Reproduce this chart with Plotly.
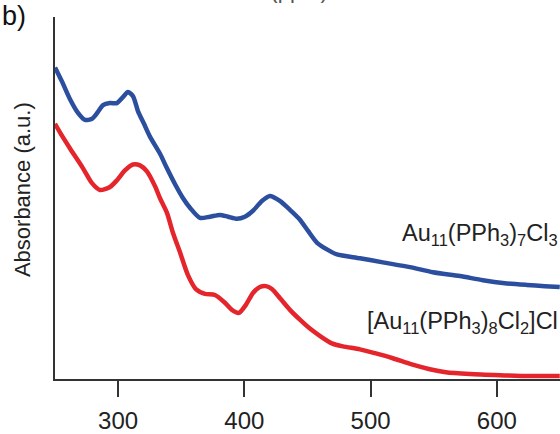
import plotly.graph_objects as go

# Wavelength (nm) and absorbance (a.u.)
blue_nm = [250.0, 255.5, 261.9, 268.2, 273.8, 279.3, 284.0, 288.0, 293.5, 299.1,
           303.8, 307.8, 311.8, 315.7, 320.5, 325.2, 333.1, 338.7, 345.0, 351.3,
           356.9, 364.8, 372.7, 380.6, 387.0, 394.1, 400.4, 406.8, 413.9, 420.2,
           428.1, 436.1, 444.0, 450.3, 457.4, 465.4, 473.3, 491.5, 509.7, 531.1,
           549.3, 570.7, 588.9, 606.3, 623.7, 638.0, 649.8]
blue_abs = [1.050, 1.003, 0.943, 0.897, 0.873, 0.877, 0.900, 0.923, 0.930, 0.930,
            0.950, 0.967, 0.953, 0.903, 0.860, 0.817, 0.760, 0.710, 0.657, 0.610,
            0.577, 0.543, 0.547, 0.553, 0.547, 0.540, 0.547, 0.567, 0.600, 0.617,
            0.600, 0.570, 0.537, 0.500, 0.460, 0.437, 0.420, 0.407, 0.393, 0.377,
            0.360, 0.347, 0.333, 0.323, 0.317, 0.313, 0.310]

red_nm = [250.0, 255.5, 261.9, 272.2, 279.3, 285.6, 293.5, 299.1, 305.4, 311.8,
          317.3, 322.8, 329.2, 333.1, 338.7, 343.4, 349.0, 355.3, 361.6, 368.8,
          376.7, 384.6, 390.1, 395.7, 401.2, 406.8, 412.3, 417.1, 421.8, 428.1,
          436.1, 444.0, 451.9, 460.6, 469.3, 478.0, 491.5, 503.4, 517.6, 531.9,
          546.9, 559.6, 578.6, 602.3, 626.1, 649.8]
red_abs = [0.860, 0.820, 0.777, 0.710, 0.660, 0.637, 0.647, 0.670, 0.703, 0.723,
           0.720, 0.700, 0.650, 0.610, 0.560, 0.493, 0.427, 0.350, 0.303, 0.287,
           0.283, 0.257, 0.233, 0.223, 0.250, 0.290, 0.310, 0.313, 0.303, 0.273,
           0.233, 0.200, 0.170, 0.143, 0.120, 0.110, 0.100, 0.087, 0.070, 0.050,
           0.033, 0.023, 0.017, 0.013, 0.010, 0.010]

x_ticks = [300, 400, 500, 600]
blue_name = "Au<sub>11</sub>(PPh<sub>3</sub>)<sub>7</sub>Cl<sub>3</sub>"
red_name = "[Au<sub>11</sub>(PPh<sub>3</sub>)<sub>8</sub>Cl<sub>2</sub>]Cl"

FONT = "Liberation Sans, Arial, Helvetica, sans-serif"
BLUE = "#2b4f9e"
RED = "#e5252c"

fig = go.Figure()
fig.add_trace(go.Scatter(x=blue_nm, y=blue_abs, mode="lines", name="blue",
                         line=dict(color=BLUE, width=4.5, shape="spline", smoothing=0.7)))
fig.add_trace(go.Scatter(x=red_nm, y=red_abs, mode="lines", name="red",
                         line=dict(color=RED, width=4.5, shape="spline", smoothing=0.7)))

fig.update_layout(
    width=560, height=434,
    margin=dict(l=55, r=0, t=17, b=51),
    paper_bgcolor="white", plot_bgcolor="white",
    showlegend=False,
    font=dict(family=FONT, color="#222222"),
    xaxis=dict(range=[250, 650], tickvals=x_ticks, ticks="outside", ticklen=16,
               tickwidth=1.6, tickcolor="#333333", showline=True, linecolor="#333333",
               linewidth=1.8, showgrid=False, zeroline=False, ticklabelstandoff=3,
               tickfont=dict(size=24, family=FONT, color="#222222")),
    yaxis=dict(range=[0, 1.22], showticklabels=False, ticks="", showline=True,
               linecolor="#333333", linewidth=1.8, showgrid=False, zeroline=False),
)

fig.add_annotation(text="Absorbance (a.u.)", xref="paper", yref="paper",
                   x=-33/505, y=(383-192)/366, textangle=-90, showarrow=False,
                   xanchor="center", yanchor="middle",
                   font=dict(size=22, family=FONT, color="#222222"))
fig.add_annotation(text="b)", xref="paper", yref="paper", x=-55/505, y=(383-16)/366,
                   showarrow=False, xanchor="left", yanchor="middle",
                   font=dict(size=27, family=FONT, color="#111111"))
fig.add_annotation(text="δ (ppm)", xref="paper", yref="paper", x=(290-55)/505,
                   y=(383-5)/366, showarrow=False, xanchor="center", yanchor="bottom",
                   font=dict(size=22, family=FONT, color="#555555"))
fig.add_annotation(text=blue_name, xref="paper", yref="y", x=1.0, y=0.487,
                   showarrow=False, xanchor="right", yanchor="middle",
                   font=dict(size=23.5, family=FONT, color="#222222"))
fig.add_annotation(text=red_name, xref="paper", yref="y", x=1.0, y=0.19,
                   showarrow=False, xanchor="right", yanchor="middle",
                   font=dict(size=23.5, family=FONT, color="#222222"))

fig.write_html("out.html", config={"displayModeBar": False},
               post_script="document.body.style.margin='0';document.body.style.overflow='hidden';")
